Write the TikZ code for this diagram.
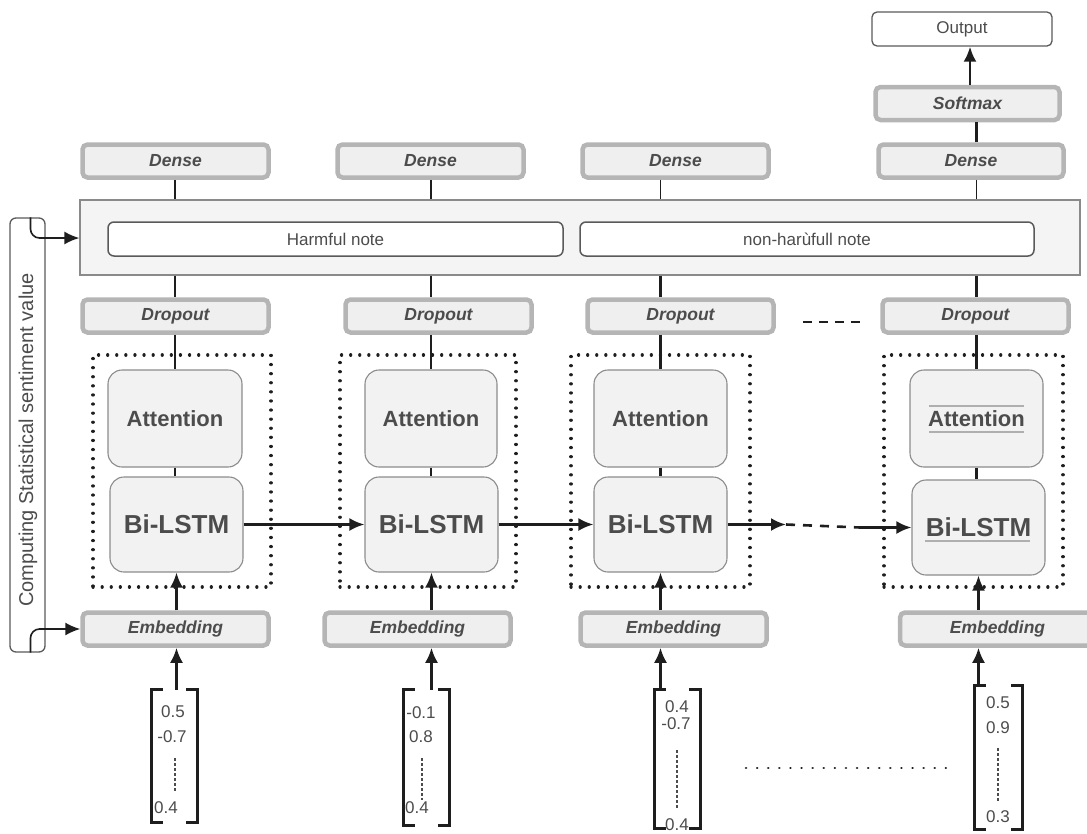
\documentclass[tikz,border=0pt]{standalone}
\usepackage{fontspec}
\setmainfont{Liberation Sans}
\usetikzlibrary{arrows.meta,calc}
\definecolor{txt}{HTML}{4C4C4C}
\definecolor{bord}{HTML}{B5B5B5}
\definecolor{lay}{HTML}{EFEFEF}
\definecolor{cellb}{HTML}{8C8C8C}
\definecolor{cellf}{HTML}{F2F2F2}
\definecolor{bigf}{HTML}{F4F4F4}
\definecolor{bigb}{HTML}{8A8A8A}
\definecolor{noteb}{HTML}{5A5A5A}
\definecolor{ink}{HTML}{1E1E1E}
\tikzset{
  layer/.style={draw=bord, line width=4.5pt, fill=lay, rounded corners=5pt,
    minimum width=186pt, minimum height=33pt, inner sep=0pt,
    font=\fontsize{17.5}{20}\selectfont\bfseries\itshape, text=txt},
  cell/.style={draw=cellb, line width=1.1pt, fill=cellf, rounded corners=14pt,
    minimum width=133pt, inner sep=0pt, text=txt},
  attn/.style={cell, minimum height=97pt, font=\fontsize{22}{26}\selectfont\bfseries},
  lstm/.style={cell, minimum height=95pt, font=\fontsize{26}{30}\selectfont\bfseries},
  dotbox/.style={draw=ink, line width=3.2pt, dash pattern=on 0.1pt off 9pt, line cap=round,
    minimum height=232pt, inner sep=0pt},
  notebox/.style={draw=noteb, line width=1.5pt, fill=white, rounded corners=6pt,
    minimum width=455pt, minimum height=34pt, inner sep=0pt,
    font=\fontsize{17}{20}\selectfont, text=txt},
  vec/.style={minimum width=45pt, inner sep=0pt},
  num/.style={inner sep=0pt, font=\fontsize{17}{20}\selectfont, text=txt},
  conn/.style={draw=ink, line width=2.6pt},
  arr/.style={conn, -{Latex[length=15pt,width=13pt]}},
  brk/.style={draw=ink, line width=2.8pt},
  vdots/.style={draw=txt, line width=2pt, dash pattern=on 3pt off 2pt},
  glitch/.style={draw=cellb!70, line width=1.2pt},
}
\begin{document}
\begin{tikzpicture}[x=1pt,y=-1pt]
\useasboundingbox (0,0) rectangle (1087,833);

% ---------- output head ----------
\node[draw=noteb, line width=1.3pt, fill=white, rounded corners=5pt, minimum width=180pt,
  minimum height=34pt, inner sep=0pt, font=\fontsize{17}{20}\selectfont, text=txt]
  (out) at (962,29) {Output};
\node[layer, minimum width=184pt] (soft) at (967.5,103.5) {Softmax};

% ---------- dense layers ----------
\node[layer] (dense1) at (175.5,161) {Dense};
\node[layer] (dense2) at (430.5,161) {Dense};
\node[layer] (dense3) at (675.5,161) {Dense};
\node[layer, minimum width=185pt] (dense4) at (971,161) {Dense};

% ---------- big container ----------
\node[draw=bigb, line width=1.3pt, fill=bigf, minimum width=1000pt, minimum height=75pt,
  inner sep=0pt] (big) at (580,237.5) {};
\node[notebox] (harm) at (335.5,239) {Harmful note};
\node[notebox, minimum width=454pt] (nharm) at (807,239) {non-har\`ufull note};

% ---------- dropout layers ----------
\node[layer] (drop1) at (175.5,316) {Dropout};
\node[layer] (drop2) at (438.5,316) {Dropout};
\node[layer] (drop3) at (680.5,316) {Dropout};
\node[layer] (drop4) at (975.5,316) {Dropout};

% ---------- dotted groups ----------
\node[dotbox, minimum width=178pt] (dot1) at (182,471) {};
\node[dotbox, minimum width=176pt] (dot2) at (428,471) {};
\node[dotbox, minimum width=179pt] (dot3) at (660.5,471) {};
\node[dotbox, minimum width=179pt] (dot4) at (973.5,471) {};

% ---------- attention / bi-lstm ----------
\node[attn, minimum width=134pt] (att1) at (175,418.5) {Attention};
\node[attn, minimum width=132pt] (att2) at (431,418.5) {Attention};
\node[attn] (att3) at (660.5,418.5) {Attention};
\node[attn] (att4) at (976.5,418.5) {Attention};

\node[lstm] (lstm1) at (176.5,524.5) {Bi-LSTM};
\node[lstm] (lstm2) at (431.5,524.5) {Bi-LSTM};
\node[lstm] (lstm3) at (660.5,524.5) {Bi-LSTM};
\node[lstm] (lstm4) at (978.5,527.5) {Bi-LSTM};

% faint rules seen on the last column
\draw[glitch] (929,406) -- (1024,406);
\draw[glitch] (929,432) -- (1024,432);
\draw[glitch] (925,541) -- (1030,541);

% ---------- embedding ----------
\node[layer] (emb1) at (175.5,629) {Embedding};
\node[layer] (emb2) at (417.5,629) {Embedding};
\node[layer] (emb3) at (673.5,629) {Embedding};
\node[layer, minimum width=195pt] (emb4) at (997.5,629) {Embedding};

% ---------- left side box ----------
\node[draw=noteb, line width=1.3pt, fill=white, rounded corners=6pt, minimum width=35pt,
  minimum height=434pt, inner sep=0pt] (comp) at (27.5,435) {};
\node[rotate=90, font=\fontsize{20}{22}\selectfont, text=txt, inner sep=0pt]
  (comptxt) at (28,440) {Computing Statistical sentiment value};

\coordinate (ctop) at ($(comp.north)+(3,0)$);
\coordinate (cbot) at ($(comp.south)+(3,0)$);
\draw[arr, line width=1.6pt, rounded corners=9pt] (ctop) -- (ctop |- 0,238) -- (big.west |- 0,238);
\draw[arr, line width=1.6pt, rounded corners=9pt] (cbot) -- (cbot |- emb1.west) -- (emb1.west);

% ---------- input vectors ----------
\node[vec, minimum width=45pt, minimum height=132pt] (vec1) at (174.5,756) {};
\node[vec, minimum width=45pt, minimum height=135pt] (vec2) at (426.5,757.5) {};
\node[vec, minimum width=45pt, minimum height=138pt] (vec3) at (677.5,759) {};
\node[vec, minimum width=47pt, minimum height=143pt] (vec4) at (998.5,757.5) {};

\foreach \v in {vec1,vec2,vec3,vec4}{
  \draw[brk] ($(\v.north west)+(11,0)$) -- (\v.north west) -- (\v.south west) -- ++(11,0);
  \draw[brk] ($(\v.north east)+(-11,0)$) -- (\v.north east) -- (\v.south east) -- ++(-11,0);
}

\node[num] (n11) at (173,712) {0.5};
\node[num] (n12) at (172,737) {-0.7};
\node[num] (n13) at (166,808) {0.4};
\draw[vdots] (175,758) -- (175,792);

\node[num] (n21) at (421,713) {-0.1};
\node[num] (n22) at (421,737) {0.8};
\node[num] (n23) at (417,808) {0.4};
\draw[vdots] (422,758) -- (422,800);

\node[num] (n31) at (677,707) {0.4};
\node[num] (n32) at (676,724) {-0.7};
\node[num] (n33) at (677,825) {0.4};
\draw[vdots] (677,750) -- (677,808);

\node[num] (n41) at (998,703) {0.5};
\node[num] (n42) at (998,728) {0.9};
\node[num] (n43) at (998,817) {0.3};
\draw[vdots] (998,748) -- (998,802);

% ---------- vertical connectors ----------
\foreach \i in {1,2,3,4}{
  \draw[conn, line width=1.5pt] (att\i.north |- dense\i.south) -- (att\i.north |- big.north);
  \draw[conn] (att\i.north |- big.south) -- (att\i.north |- drop\i.north);
  \draw[conn] (att\i.north |- drop\i.south) -- (att\i.north);
  \draw[conn] (att\i.south) -- (att\i.south |- lstm\i.north);
  \draw[arr] (lstm\i.south |- emb\i.north) -- (lstm\i.south);
  \draw[arr] (vec\i.north -| lstm\i.south) -- (lstm\i.south |- emb\i.south);
}
\draw[conn] (dense4.north -| att4.north) -- (soft.south -| att4.north);
\draw[arr] ([xshift=8pt]out.south |- soft.north) -- ([xshift=8pt]out.south);

% ---------- horizontal flow ----------
\draw[arr] (lstm1.east) -- (lstm2.west);
\draw[arr] (lstm2.east) -- (lstm3.west);
\coordinate (f1) at (786,524.5);
\coordinate (f2) at (860,527.5);
\draw[arr] (lstm3.east) -- (f1);
\draw[conn, dash pattern=on 9pt off 8pt] (f1) -- (f2);
\draw[arr] (f2) -- (lstm4.west);

% ---------- ellipsis marks ----------
\coordinate (e1) at (803,322);
\coordinate (e2) at (860,322);
\draw[conn, dash pattern=on 9pt off 7pt] (e1) -- (e2);
\coordinate (e3) at (746,768);
\coordinate (e4) at (948,768);
\draw[draw=ink, line width=2.6pt, line cap=round, dash pattern=on 0.1pt off 11pt] (e3) -- (e4);

\end{tikzpicture}
\end{document}
